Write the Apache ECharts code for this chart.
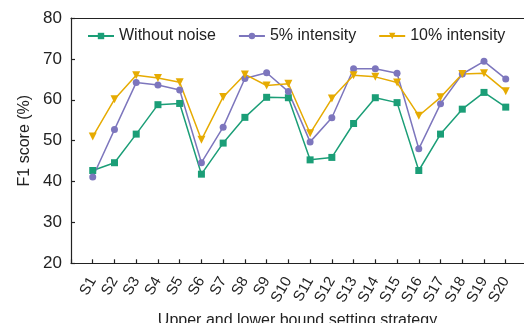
<!DOCTYPE html>
<html>
<head>
<meta charset="utf-8">
<script src="https://cdn.jsdelivr.net/npm/echarts@6/dist/echarts.min.js"></script>
<style>html,body{margin:0;padding:0;background:#fff;}#c{width:524px;height:323px;}</style>
</head>
<body>
<div id="c"></div>
<script>
const categories = ['S1','S2','S3','S4','S5','S6','S7','S8','S9','S10','S11','S12','S13','S14','S15','S16','S17','S18','S19','S20'];
const withoutNoise = [42.7,44.6,51.6,58.8,59.1,41.8,49.4,55.7,60.6,60.5,45.3,45.9,54.2,60.5,59.3,42.7,51.6,57.7,61.8,58.2];
const intensity5 = [41.1,52.7,64.2,63.6,62.4,44.6,53.3,65.2,66.6,62.0,49.7,55.6,67.6,67.6,66.5,48.0,59.0,66.3,69.4,65.1];
const intensity10 = [51.0,60.1,66.0,65.3,64.3,50.2,60.7,66.2,63.5,63.9,51.8,60.3,66.0,65.6,64.2,56.1,60.6,66.3,66.5,62.1];
const seriesNames = ['Without noise','5% intensity','10% intensity'];
const yTicks = [20,30,40,50,60,70,80];

const font = 'Liberation Sans, Arial, sans-serif';
const toPairs = arr => arr.map((v,i)=>[i+1,v]);
const axisColor = '#222';
const chart = echarts.init(document.getElementById('c'), null, {renderer:'canvas'});
chart.setOption({
  animation:false,
  backgroundColor:'#fff',
  textStyle:{fontFamily:font},
  grid:{left:71, right:0, top:18, bottom:59.7, show:false, containLabel:false, outerBoundsMode:'none'},
  legend:{
    left:82, top:23, itemWidth:26, itemHeight:8, itemGap:22,
    textStyle:{fontSize:16, color:axisColor, fontFamily:font},
    data:seriesNames
  },
  xAxis:[{
    type:'value', min:0, max:20.84, interval:1,
    name:'Upper and lower bound setting strategy', nameLocation:'middle', nameGap:48,
    nameTextStyle:{fontSize:16, color:axisColor, fontFamily:font},
    axisLine:{show:true, lineStyle:{color:axisColor, width:1.2}},
    axisTick:{show:true, inside:true, length:4, lineStyle:{color:axisColor, width:1.2}},
    splitLine:{show:false},
    axisLabel:{
      rotate:60, fontSize:15, color:axisColor, margin:15, fontFamily:font,
      showMaxLabel:false,
      formatter:v => (v>=1 && v<=categories.length) ? categories[v-1] : ''
    }
  },{
    type:'value', position:'top', min:0, max:20.84,
    axisLine:{show:true, lineStyle:{color:axisColor, width:1.2}},
    axisTick:{show:false}, axisLabel:{show:false}, splitLine:{show:false}
  }],
  yAxis:{
    type:'value', min:yTicks[0], max:yTicks[yTicks.length-1], interval:10,
    name:'F1 score (%)', nameLocation:'middle', nameGap:38,
    nameTextStyle:{fontSize:16, color:axisColor, fontFamily:font},
    axisLine:{show:true, lineStyle:{color:axisColor, width:1.2}},
    axisTick:{show:true, inside:true, length:4, lineStyle:{color:axisColor, width:1.2}},
    splitLine:{show:false},
    axisLabel:{fontSize:17, color:axisColor, margin:9, fontFamily:font}
  },
  series:[
    {name:seriesNames[0], type:'line', data:toPairs(withoutNoise), symbol:'rect', symbolSize:7,
     lineStyle:{width:1.5, color:'#1b9e77'}, itemStyle:{color:'#1b9e77'}},
    {name:seriesNames[1], type:'line', data:toPairs(intensity5), symbol:'circle', symbolSize:7,
     lineStyle:{width:1.5, color:'#7d76bd'}, itemStyle:{color:'#7d76bd'}},
    {name:seriesNames[2], type:'line', data:toPairs(intensity10), symbol:'triangle', symbolRotate:180, symbolSize:8,
     lineStyle:{width:1.5, color:'#e6ab02'}, itemStyle:{color:'#e6ab02'}}
  ]
});
</script>
</body>
</html>
